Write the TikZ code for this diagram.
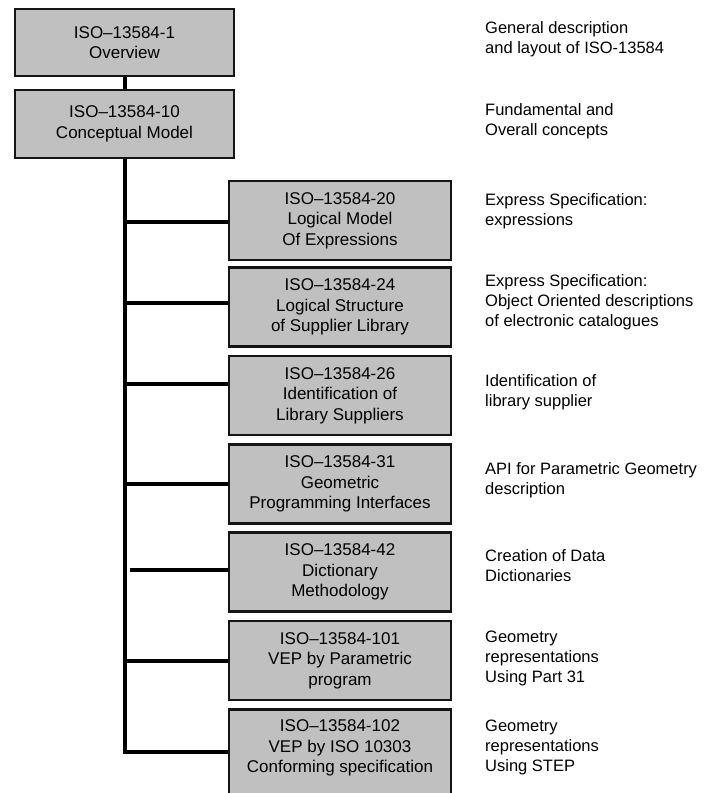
\documentclass[tikz,border=0pt]{standalone}
\usepackage{fontspec}
\setmainfont{Liberation Sans}
\begin{document}
\begin{tikzpicture}[x=1pt,y=-1pt,
  part/.style={draw=black!92, line width=2.6pt, fill=boxgray, align=center,
    inner sep=0pt, minimum width=222pt, minimum height=79pt,
    font=\fontsize{17}{20.5}\selectfont},
  toppart/.style={part, minimum width=219pt, minimum height=67pt},
  note/.style={anchor=west, align=left, inner sep=0pt,
    font=\fontsize{16.5}{20}\selectfont},
  conn/.style={line width=4pt, black, line join=miter}]
\definecolor{boxgray}{HTML}{C0C0C0}
\useasboundingbox (0,0) rectangle (713,793);
\clip (0,0) rectangle (713,793);

% top of the hierarchy
\node[toppart] (b1) at (124.5,42.5) {ISO–13584-1\\Overview};
\node[toppart, minimum height=68pt] (b2) at (124.5,124) {ISO–13584-10\\Conceptual Model};

% parts hanging off the conceptual model
\node[part] (b20)  at (340,220.5) {ISO–13584-20\\Logical Model\\Of Expressions};
\node[part] (b24)  at (340,307)   {ISO–13584-24\\Logical Structure\\of Supplier Library};
\node[part] (b26)  at (340,395.5) {ISO–13584-26\\Identification of\\Library Suppliers};
\node[part] (b31)  at (340,484)   {ISO–13584-31\\Geometric\\Programming Interfaces};
\node[part] (b42)  at (340,572)   {ISO–13584-42\\Dictionary\\Methodology};
\node[part] (b101) at (340,660.5) {ISO–13584-101\\VEP by Parametric\\program};
\node[part, minimum height=100pt, anchor=north] (b102) at (340,708.3) {};
\node[align=center, inner sep=0pt, font=\fontsize{17}{20.5}\selectfont] (t102) at (340,748)
  {ISO–13584-102\\VEP by ISO 10303\\Conforming specification};

% descriptions
\node[note] (d1)   at (485,39)  {General description\\and layout of ISO-13584};
\node[note] (d2)   at (485,121) {Fundamental and\\Overall concepts};
\node[note] (d20)  at (485,211) {Express Specification:\\expressions};
\node[note] (d24)  at (485,302) {Express Specification:\\Object Oriented descriptions\\of electronic catalogues};
\node[note] (d26)  at (485,392) {Identification of\\library supplier};
\node[note] (d31)  at (485,480) {API for Parametric Geometry\\description};
\node[note] (d42)  at (485,566) {Creation of Data\\Dictionaries};
\node[note] (d101) at (485,658) {Geometry\\representations\\Using Part 31};
\node[note] (d102) at (485,747) {Geometry\\representations\\Using STEP};

% connectors
\coordinate (corner) at (125,752);
\coordinate (j20)  at (125,222);
\coordinate (j24)  at (125,303);
\coordinate (j26)  at (125,384);
\coordinate (j31)  at (125,484);
\coordinate (j42)  at (130,570);
\coordinate (j101) at (125,661);

\draw[conn] (b1.south) -- (b2.north);
\draw[conn] (b2.south -| corner) -- (corner) -- (corner -| b102.west);
\foreach \j/\b in {j20/b20, j24/b24, j26/b26, j31/b31, j42/b42, j101/b101}
  \draw[conn] (\j) -- (\j -| \b.west);
\end{tikzpicture}
\end{document}
